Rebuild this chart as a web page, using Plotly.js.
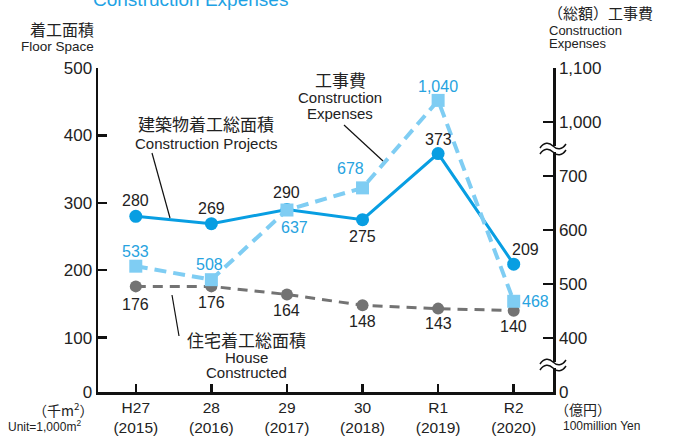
<!DOCTYPE html>
<html><head><meta charset="utf-8">
<script src="https://cdn.plot.ly/plotly-3.0.1.min.js"></script>
<style>html,body{margin:0;padding:0;background:#fff}#chart{width:674px;height:436px}</style>
</head><body><div id="chart"></div>
<script>
// ---- data ----
const years = ['H27', '28', '29', '30', 'R1', 'R2'];
const yearsAD = ['(2015)', '(2016)', '(2017)', '(2018)', '(2019)', '(2020)'];
const projects = [280, 269, 290, 275, 373, 209];      // 建築物着工総面積 (千m²)
const houses = [176, 176, 164, 148, 143, 140];        // 住宅着工総面積 (千m²)
const expenses = [533, 508, 637, 678, 1040, 468];     // 工事費 (億円)
const leftTicks = [0, 100, 200, 300, 400, 500];
const rightTicks = [0, 400, 500, 600, 700, 1000, 1100];

// ---- axis scales (broken axes like the original) ----
// left axis: 0..100 compressed, linear above 100
const leftBreak = [[0, 19.3], [100, 100], [500, 500]];
function leftPos(v) {
  for (let i = 0; i < leftBreak.length - 1; i++) {
    const [a, pa] = leftBreak[i], [b, pb] = leftBreak[i + 1];
    if (v <= b || i === leftBreak.length - 2) return pa + (v - a) / (b - a) * (pb - pa);
  }
}
// right axis: every tick step is one unit (with breaks 0-400 and 700-1000)
function rightPos(v) {
  for (let i = 0; i < rightTicks.length - 1; i++) {
    const a = rightTicks[i], b = rightTicks[i + 1];
    if (v <= b || i === rightTicks.length - 2) return i + (v - a) / (b - a);
  }
}

// ---- layout helpers ----
const L = 98, T = 68, W = 455, H = 324;
const fx = x => (x - L) / W;
const fy = y => (T + H - y) / H;
const LAT = '"Liberation Sans", Arial, sans-serif';
const CJK = '"Noto Sans CJK JP", sans-serif';
const BLUE = '#089ee2', LBLUE = '#7fcdf3', LBLUE_T = '#27a3e0', GRAY = '#737373';

const projShift = [[0, 16], [0, 15], [0, 17], [0, -17], [0, 14], [12, 15]];
const expShift = [[0, 15], [-2, 15], [8, -17], [-12, 19], [0, 14], [22, 0]];
const houseShift = [[0, -18], [0, -16], [0, -16], [0, -16], [0, -15], [0, -16]];

const fmt = v => v.toLocaleString('en-US');

const traces = [
  {x: years, y: houses.map(leftPos), yaxis: 'y', type: 'scatter', mode: 'lines+markers',
   line: {color: GRAY, width: 3, dash: '10px,7px'}, marker: {symbol: 'circle', size: 12, color: GRAY},
   hoverinfo: 'skip'},
  {x: years, y: expenses.map(rightPos), yaxis: 'y2', type: 'scatter', mode: 'lines+markers',
   line: {color: LBLUE, width: 4, dash: '12px,7px'}, marker: {symbol: 'square', size: 13, color: LBLUE},
   hoverinfo: 'skip'},
  {x: years, y: projects.map(leftPos), yaxis: 'y', type: 'scatter', mode: 'lines+markers',
   line: {color: BLUE, width: 3}, marker: {symbol: 'circle', size: 13, color: BLUE},
   hoverinfo: 'skip'}
];

const ann = [];
years.forEach((yr, i) => {
  // category index i (numeric-looking category names would be misread)
  ann.push({x: i, y: leftPos(projects[i]), xref: 'x', yref: 'y', text: fmt(projects[i]), showarrow: false,
    xshift: projShift[i][0], yshift: projShift[i][1], font: {family: LAT, size: 16, color: '#222'}});
  ann.push({x: i, y: rightPos(expenses[i]), xref: 'x', yref: 'y2', text: fmt(expenses[i]), showarrow: false,
    xshift: expShift[i][0], yshift: expShift[i][1], font: {family: LAT, size: 16, color: LBLUE_T}});
  ann.push({x: i, y: leftPos(houses[i]), xref: 'x', yref: 'y', text: fmt(houses[i]), showarrow: false,
    xshift: houseShift[i][0], yshift: houseShift[i][1], font: {family: LAT, size: 16, color: '#222'}});
});

function txt(x, y, text, size, family, opts) {
  return Object.assign({xref: 'paper', yref: 'paper', x: fx(x), y: fy(y), text: text, showarrow: false,
    xanchor: 'center', yanchor: 'middle', font: {family: family, size: size, color: '#222'}}, opts || {});
}
ann.push(txt(190, 0, 'Construction Expenses', 19, LAT, {font: {family: LAT, size: 19, color: '#1ea2e4'}}));
ann.push(txt(96, 29, '着工面積', 16, CJK, {xanchor: 'right'}));
ann.push(txt(96, 47, 'Floor Space', 13.5, LAT, {xanchor: 'right'}));
ann.push(txt(546, 13, '（総額）工事費', 15, CJK, {xanchor: 'left'}));
ann.push(txt(547, 31, 'Construction', 13, LAT, {xanchor: 'left'}));
ann.push(txt(547, 44, 'Expenses', 13, LAT, {xanchor: 'left'}));
ann.push(txt(340, 79, '工事費', 17, CJK));
ann.push(txt(340, 98, 'Construction', 15, LAT));
ann.push(txt(340, 114, 'Expenses', 15, LAT));
ann.push(txt(206, 123, '建築物着工総面積', 17, CJK));
ann.push(txt(206, 143, 'Construction Projects', 15, LAT));
ann.push(txt(246, 339, '住宅着工総面積', 17, CJK));
ann.push(txt(246, 357, 'House', 15, LAT));
ann.push(txt(246, 372, 'Constructed', 15, LAT));
ann.push(txt(63, 409, '（千m<sup>2</sup>）', 14, CJK));
ann.push(txt(44, 426, 'Unit=1,000m<sup>2</sup>', 12, LAT));
ann.push(txt(583, 409, '（億円）', 14, CJK));
ann.push(txt(601, 426, '100million Yen', 12, LAT));

const shapes = [
  {type: 'line', xref: 'paper', yref: 'paper', x0: fx(344), y0: fy(125), x1: fx(383), y1: fy(161), line: {color: '#111', width: 1.2}},
  {type: 'line', xref: 'paper', yref: 'paper', x0: fx(152), y0: fy(153), x1: fx(170), y1: fy(218), line: {color: '#111', width: 1.2}},
  {type: 'line', xref: 'paper', yref: 'paper', x0: fx(172), y0: fy(295), x1: fx(179), y1: fy(336), line: {color: '#111', width: 1.2}}
];
// axis break marks on the right axis
[ (rightPos(700) + rightPos(1000)) / 2, (rightPos(0) + rightPos(400)) / 2 ].forEach(yb => {
  const base = {xref: 'paper', yref: 'y2', xanchor: 1, yanchor: yb, xsizemode: 'pixel', ysizemode: 'pixel'};
  shapes.push(Object.assign({type: 'rect', x0: -5, x1: 5, y0: -3, y1: 3, fillcolor: '#fff', line: {width: 0}}, base));
  shapes.push(Object.assign({type: 'path', path: 'M-13,1 C-9,7 -4,7 0,3 C4,-1 9,-1 13,5', line: {color: '#111', width: 1.5}}, base));
  shapes.push(Object.assign({type: 'path', path: 'M-13,-5 C-9,1 -4,1 0,-3 C4,-7 9,-7 13,-1', line: {color: '#111', width: 1.5}}, base));
});

const axisCommon = {showline: true, linecolor: '#111', linewidth: 2.5, ticks: 'inside', tickcolor: '#111',
  tickwidth: 2.5, showgrid: false, zeroline: false, fixedrange: true};

const layout = {
  width: 674, height: 436, margin: {l: L, r: 674 - L - W, t: T, b: 436 - T - H},
  paper_bgcolor: '#fff', plot_bgcolor: '#fff', showlegend: false,
  xaxis: Object.assign({}, axisCommon, {type: 'category', range: [-0.5, 5.52], ticklen: 8,
    tickvals: years, ticktext: years.map((y, i) => y + '<br>' + yearsAD[i]),
    tickfont: {family: LAT, size: 15.5, color: '#222'}}),
  yaxis: Object.assign({}, axisCommon, {range: [leftPos(0), leftPos(500)], ticklen: 9,
    tickvals: leftTicks.map(leftPos), ticktext: leftTicks.map(fmt),
    tickfont: {family: LAT, size: 17, color: '#222'}}),
  yaxis2: Object.assign({}, axisCommon, {overlaying: 'y', side: 'right', range: [rightPos(0), rightPos(1100)], ticklen: 10,
    tickvals: rightTicks.map(rightPos), ticktext: rightTicks.map(fmt),
    tickfont: {family: LAT, size: 17, color: '#222'}}),
  annotations: ann,
  shapes: shapes
};

Plotly.newPlot('chart', traces, layout, {displayModeBar: false, staticPlot: true});
</script></body></html>
